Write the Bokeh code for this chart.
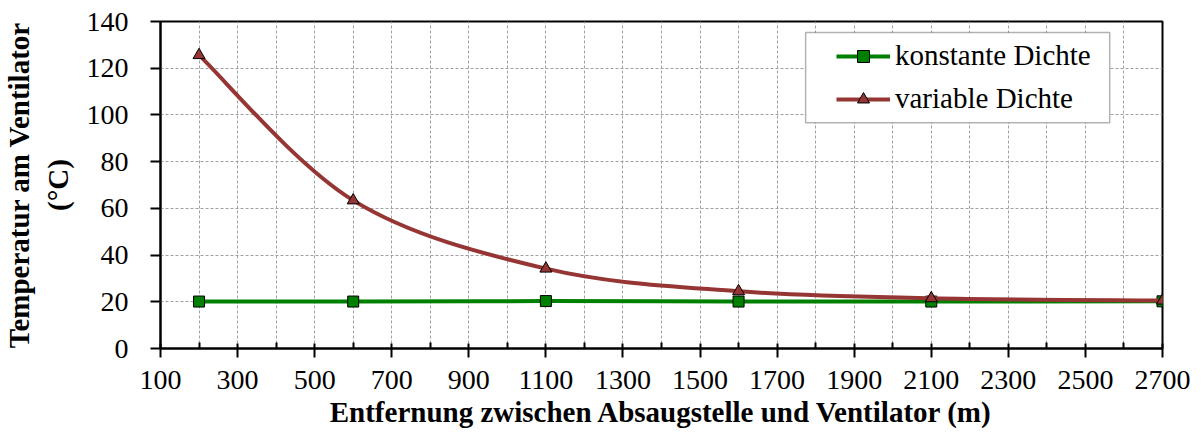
import numpy as np
from bokeh.plotting import figure
from bokeh.models import (Range1d, FixedTicker, Legend, LegendItem,
                          BoxAnnotation, ColumnDataSource)
from bokeh.embed import file_html
from bokeh.resources import INLINE

# Distance between extraction point and fan (m)
distance_m = [200, 600, 1100, 1600, 2100, 2700]
# Temperature at the fan (°C)
temp_konstant = [20.1, 20.1, 20.3, 20.1, 20.1, 20.2]
temp_variabel = [125.6, 63.4, 34.2, 24.5, 21.5, 20.5]
series_names = ["konstante Dichte", "variable Dichte"]

x_ticks = list(range(100, 2701, 200))
x_minor_ticks = list(range(200, 2601, 200))
y_ticks = list(range(0, 141, 20))

FONT = "Liberation Serif"
GREEN = "#008000"
RED = "#963634"


def smooth_segments(xs, ys):
    """Cubic Bezier segments (Catmull-Rom style) through the given points."""
    pts = np.column_stack([xs, ys]).astype(float)
    ext = np.vstack([pts[0], pts, pts[-1]])
    seg = {k: [] for k in ("x0", "y0", "x1", "y1", "cx0", "cy0", "cx1", "cy1")}
    for i in range(len(pts) - 1):
        pp, p0, p1, pn = ext[i], ext[i + 1], ext[i + 2], ext[i + 3]
        c0 = p0 + (p1 - pp) / 6.0
        c1 = p1 - (pn - p0) / 6.0
        seg["x0"].append(p0[0]); seg["y0"].append(p0[1])
        seg["x1"].append(p1[0]); seg["y1"].append(p1[1])
        seg["cx0"].append(c0[0]); seg["cy0"].append(c0[1])
        seg["cx1"].append(c1[0]); seg["cy1"].append(c1[1])
    return ColumnDataSource(seg)


p = figure(width=1202, height=439, output_backend="svg", toolbar_location=None,
           x_range=Range1d(100, 2700), y_range=Range1d(0, 140),
           min_border_left=157, min_border_right=40,
           min_border_top=21, min_border_bottom=91,
           background_fill_color="white", border_fill_color="white")

p.outline_line_color = "black"
p.outline_line_width = 2

# Axes
p.xaxis.ticker = FixedTicker(ticks=x_ticks, minor_ticks=x_minor_ticks)
p.yaxis.ticker = FixedTicker(ticks=y_ticks, minor_ticks=[])
for ax in (p.xaxis, p.yaxis):
    ax.axis_line_color = "black"
    ax.axis_line_width = 2
    ax.major_tick_line_color = "black"
    ax.major_tick_line_width = 2
    ax.minor_tick_line_color = "black"
    ax.minor_tick_line_width = 2
    ax.major_label_text_font = FONT
    ax.major_label_text_font_size = "28px"
    ax.major_label_text_color = "black"
    ax.axis_label_text_font = FONT
    ax.axis_label_text_font_size = "29px"
    ax.axis_label_text_font_style = "bold"
    ax.axis_label_text_color = "black"

p.xaxis.major_tick_in = 5
p.xaxis.major_tick_out = 9
p.xaxis.minor_tick_in = 6
p.xaxis.minor_tick_out = 0
p.xaxis.major_label_standoff = 13
p.xaxis.axis_label_standoff = 4
p.xaxis.axis_label = "Entfernung zwischen Absaugstelle und Ventilator (m)"

p.yaxis.major_tick_in = 0
p.yaxis.major_tick_out = 10
p.yaxis.major_label_standoff = 22
p.yaxis.axis_label_standoff = 10
p.yaxis.axis_label = "Temperatur am Ventilator\n(°C)"

# Dashed grid
p.xgrid.ticker = FixedTicker(ticks=x_ticks, minor_ticks=x_minor_ticks)
p.ygrid.ticker = FixedTicker(ticks=y_ticks, minor_ticks=[])
for g in (p.xgrid, p.ygrid):
    g.grid_line_color = "#a0a0a0"
    g.grid_line_width = 1
    g.grid_line_dash = "3 2"
p.xgrid.minor_grid_line_color = "#a0a0a0"
p.xgrid.minor_grid_line_width = 1
p.xgrid.minor_grid_line_dash = "3 2"

# Series: smoothed lines with markers
const_src = ColumnDataSource(dict(x=distance_m, y=temp_konstant))
var_src = ColumnDataSource(dict(x=distance_m, y=temp_variabel))

p.bezier(x0="x0", y0="y0", x1="x1", y1="y1", cx0="cx0", cy0="cy0",
         cx1="cx1", cy1="cy1", source=smooth_segments(distance_m, temp_konstant),
         line_color=GREEN, line_width=4, line_cap="round")
const_pts = p.scatter("x", "y", source=const_src, marker="square", size=11,
                      fill_color=GREEN, line_color="black", line_width=1)

p.bezier(x0="x0", y0="y0", x1="x1", y1="y1", cx0="cx0", cy0="cy0",
         cx1="cx1", cy1="cy1", source=smooth_segments(distance_m, temp_variabel),
         line_color=RED, line_width=4, line_cap="round")
var_pts = p.scatter("x", "y", source=var_src, marker="triangle", size=12,
                    fill_color=RED, line_color="black", line_width=1)

# Line stand-ins for the legend keys (nothing visible in the plot area)
key_src = ColumnDataSource(dict(x=[np.nan], y=[np.nan]))
const_key = p.line("x", "y", source=key_src, line_color=GREEN, line_width=4)
var_key = p.line("x", "y", source=key_src, line_color=RED, line_width=4)

# Legend frame
p.add_layout(BoxAnnotation(left=1774, right=2563, top=135.3, bottom=96.7,
                           fill_color="white", fill_alpha=1.0,
                           line_color="black", line_width=1.5,
                           level="annotation"))

legend = Legend(items=[LegendItem(label=series_names[0], renderers=[const_key, const_pts]),
                       LegendItem(label=series_names[1], renderers=[var_key, var_pts])],
                location=(671, 228), margin=0, padding=5, spacing=10,
                glyph_width=54, glyph_height=30, label_height=30,
                label_standoff=5, label_text_font=FONT,
                label_text_font_size="29px", label_text_color="black",
                border_line_alpha=0, background_fill_alpha=0)
p.add_layout(legend)

open("out.html", "w").write(file_html(p, INLINE))
